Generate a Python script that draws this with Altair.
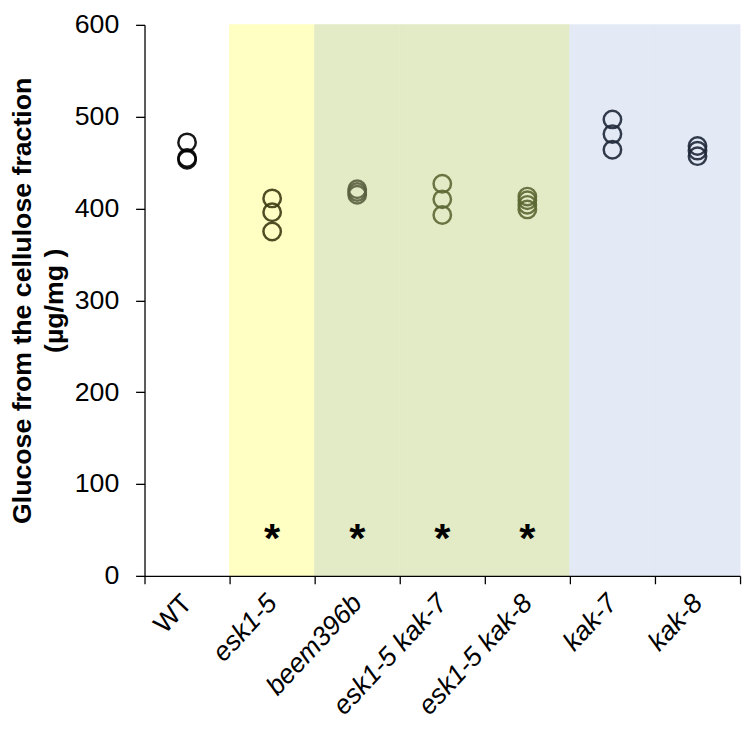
import altair as alt
import pandas as pd

categories = ["WT", "esk1-5", "beem396b", "esk1-5 kak-7", "esk1-5 kak-8", "kak-7", "kak-8"]
values = {
    "WT": [472, 455, 453],
    "esk1-5": [411, 396, 375],
    "beem396b": [421, 418, 415],
    "esk1-5 kak-7": [427, 410, 393],
    "esk1-5 kak-8": [413, 409, 404, 399],
    "kak-7": [497, 481, 464],
    "kak-8": [468, 463, 457],
}
point_colors = ["#000000", "#3b3a12", "#5a6040", "#5c6834", "#5c6834", "#1f2939", "#1f2939"]
band_colors = ["transparent", "#ffffc3", "#e3ebc6", "#e3ebc6", "#e3ebc6", "#e4eaf5", "#e4eaf5"]
star_groups = ["esk1-5", "beem396b", "esk1-5 kak-7", "esk1-5 kak-8"]
star_value = 40
y_max = 600

pts = pd.DataFrame(
    [{"g": c, "v": v, "col": point_colors[i]} for i, c in enumerate(categories) for v in values[c]]
)
bands = pd.DataFrame({"g": categories, "col": band_colors, "top": [y_max] * 7, "bot": [0] * 7})
stars = pd.DataFrame({"g": star_groups, "v": [star_value] * len(star_groups), "t": ["*"] * len(star_groups)})

FONT = "Liberation Sans"
xscale = alt.Scale(domain=categories, paddingInner=0, paddingOuter=0)
xaxis = alt.Axis(
    title=None,
    labelAngle=-47,
    labelAlign="right",
    labelBaseline="middle",
    labelFontSize=27,
    labelFont=FONT,
    labelColor="black",
    labelFontStyle={"condition": {"test": "datum.value == 'WT'", "value": "normal"}, "value": "italic"},
    labelPadding=15,
    labelOverlap=False,
    labelBound=False,
    labelLimit=0,
    tickBand="extent",
    tickSize=8,
    tickColor="black",
    domainColor="black",
    domainWidth=1.3,
    tickWidth=1.3,
    zindex=1,
)
yscale = alt.Scale(domain=[0, y_max])
yaxis = alt.Axis(
    title=["Glucose from the cellulose fraction", "(µg/mg )"],
    titleFont=FONT,
    titleFontSize=27,
    titleFontWeight="bold",
    titleColor="black",
    titlePadding=6,
    titleLineHeight=32,
    values=[0, 100, 200, 300, 400, 500, 600],
    labelFontSize=27,
    labelFont=FONT,
    labelColor="black",
    labelPadding=17,
    labelOverlap=False,
    labelBound=False,
    tickSize=9,
    tickColor="black",
    tickWidth=1.3,
    domain=True,
    ticks=True,
    domainColor="black",
    domainWidth=1.3,
    grid=False,
    zindex=1,
)

bg = alt.Chart(bands).mark_rect(strokeWidth=1).encode(
    x=alt.X("g:N", scale=xscale, axis=xaxis, sort=categories),
    y=alt.Y("top:Q", scale=yscale, axis=yaxis),
    y2="bot:Q",
    color=alt.Color("col:N", scale=None),
    stroke=alt.Stroke("col:N", scale=None),
)

points = alt.Chart(pts).mark_point(shape="circle", size=310, strokeWidth=2.5, filled=False, opacity=0.9).encode(
    x=alt.X("g:N", scale=xscale, sort=categories),
    y=alt.Y("v:Q", scale=yscale),
    color=alt.Color("col:N", scale=None),
)

star = alt.Chart(stars).mark_text(
    fontSize=42, fontWeight="bold", font=FONT, color="black", baseline="middle"
).encode(
    x=alt.X("g:N", scale=xscale, sort=categories),
    y=alt.Y("v:Q", scale=yscale),
    text="t:N",
)

chart = (
    alt.layer(bg, points, star)
    .properties(
        width=602,
        height=557,
        autosize=alt.AutoSizeParams(type="none"),
        padding={"left": 138, "top": 13, "right": 4, "bottom": 170},
    )
    .configure_view(stroke=None)
)

chart.save("out.html", embed_options={"renderer": "svg", "actions": False})
